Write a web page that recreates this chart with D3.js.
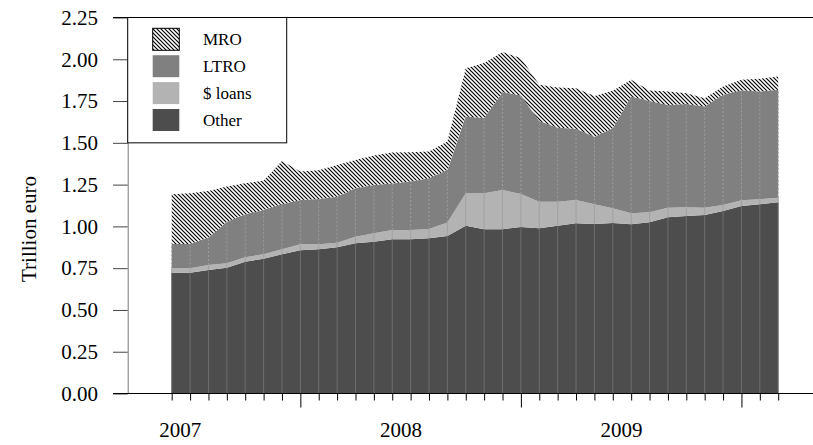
<!DOCTYPE html>
<html>
<head>
<meta charset="utf-8">
<script src="https://cdn.jsdelivr.net/npm/d3@7"></script>
<style>
  html, body { margin: 0; padding: 0; background: #fff; }
  svg { display: block; }
  text { font-family: "Liberation Serif", "Times New Roman", serif; fill: #000; }
</style>
</head>
<body>
<svg id="chart" width="813" height="445"></svg>
<script>
// ---- data (trillion euro), monthly ----
const months = [
  "2007-06","2007-07","2007-08","2007-09","2007-10","2007-11","2007-12",
  "2008-01","2008-02","2008-03","2008-04","2008-05","2008-06","2008-07","2008-08","2008-09","2008-10","2008-11","2008-12",
  "2009-01","2009-02","2009-03","2009-04","2009-05","2009-06","2009-07","2009-08","2009-09","2009-10","2009-11","2009-12",
  "2010-01","2010-02","2010-03"
];
const other = [0.723,0.723,0.739,0.753,0.789,0.807,0.833,0.857,0.863,0.875,0.899,0.908,0.923,0.923,0.929,0.943,
               1.004,0.983,0.983,0.996,0.989,1.004,1.019,1.014,1.020,1.013,1.025,1.055,1.062,1.068,1.092,1.122,1.132,1.144];
const dollarLoans = [0.026,0.026,0.030,0.026,0.026,0.026,0.030,0.036,0.030,0.027,0.039,0.051,0.055,0.055,0.055,0.081,
               0.194,0.215,0.235,0.198,0.159,0.144,0.139,0.118,0.088,0.065,0.059,0.057,0.052,0.044,0.036,0.034,0.030,0.028];
const ltro = [0.146,0.146,0.163,0.249,0.257,0.265,0.269,0.265,0.271,0.276,0.290,0.289,0.278,0.290,0.304,0.314,
               0.459,0.450,0.585,0.589,0.483,0.443,0.426,0.405,0.480,0.699,0.667,0.615,0.619,0.605,0.659,0.659,0.645,0.645];
const mro = [0.297,0.303,0.280,0.210,0.186,0.176,0.260,0.170,0.172,0.190,0.170,0.176,0.186,0.176,0.160,0.170,
               0.290,0.329,0.240,0.224,0.216,0.240,0.243,0.244,0.223,0.100,0.062,0.080,0.064,0.050,0.050,0.062,0.076,0.080];
const yTicks = [0,0.25,0.5,0.75,1.0,1.25,1.5,1.75,2.0,2.25];
const yearLabels = ["2007","2008","2009"];
const seriesNames = ["Other","$ loans","LTRO","MRO"];   // stacking order, bottom to top
const legendOrder = ["MRO","LTRO","$ loans","Other"];

// ---- build table ----
const table = months.map((m,i) => ({
  month: m, idx: i,
  "Other": other[i], "$ loans": dollarLoans[i], "LTRO": ltro[i], "MRO": mro[i]
}));

const svg = d3.select("#chart");
const x = d3.scaleLinear().domain([0, months.length - 1]).range([171.7, 778.2]);
const y = d3.scaleLinear().domain([0, 2.25]).range([393.5, 17.5]);
const step = x(1) - x(0);

const fills = { "Other": "#4d4d4d", "$ loans": "#b3b3b3", "LTRO": "#808080", "MRO": "url(#hatch)" };

// hatch pattern
const defs = svg.append("defs");
const pat = defs.append("pattern").attr("id","hatch").attr("patternUnits","userSpaceOnUse")
  .attr("width",4).attr("height",4);
pat.append("rect").attr("width",4).attr("height",4).attr("fill","#fff");
pat.append("path").attr("d","M-1,-1L5,5M-1,3L1,5M3,-1L5,1")
  .attr("stroke","#000").attr("stroke-width",1.15);

const stack = d3.stack().keys(seriesNames);
const layers = stack(table);

const area = d3.area()
  .x((d,i) => x(i))
  .y0(d => y(d[0]))
  .y1(d => y(d[1]));

svg.append("g").selectAll("path").data(layers).join("path")
  .attr("d", area)
  .attr("fill", d => fills[d.key]);

// vertical grid lines inside layers
const gridStyle = {
  "Other":   { stroke: "#6e6e6e", dash: null },
  "$ loans": { stroke: "#a2a2a2", dash: null },
  "LTRO":    { stroke: "#9c9c9c", dash: "2,2" }
};
layers.forEach(layer => {
  const st = gridStyle[layer.key];
  if (!st) return;
  svg.append("g").selectAll("line").data(layer).join("line")
    .attr("x1", (d,i) => x(i)).attr("x2", (d,i) => x(i))
    .attr("y1", d => y(d[0])).attr("y2", d => y(d[1]))
    .attr("stroke", st.stroke).attr("stroke-width", 1)
    .attr("stroke-dasharray", st.dash);
});

// y axis
const yAxis = d3.axisLeft(y).tickValues(yTicks).tickFormat(d3.format(".2f"))
  .tickSize(14.7).tickSizeOuter(0).tickPadding(15);
const gy = svg.append("g").attr("transform","translate(127.7,0)").call(yAxis);
gy.select(".domain").attr("stroke","#777");
gy.selectAll(".tick line").attr("stroke","#444");
gy.selectAll(".tick text").attr("font-size","21px").attr("font-family","Liberation Serif, Times New Roman, serif").attr("fill","#000");

// top and bottom frame lines
svg.append("line").attr("x1",113).attr("x2",813).attr("y1",y(2.25)).attr("y2",y(2.25))
  .attr("stroke","#000").attr("stroke-width",1);
svg.append("line").attr("x1",113).attr("x2",813).attr("y1",y(0)).attr("y2",y(0))
  .attr("stroke","#000").attr("stroke-width",1);

// x axis ticks
const majorIdx = months.map((m,i)=>m.endsWith("-01") ? i : -1).filter(i=>i>=0);
const xAxis = d3.axisBottom(x).tickValues(months.map((m,i)=>i)).tickFormat("")
  .tickSize(7).tickSizeOuter(0);
const gx = svg.append("g").attr("transform",`translate(0,${y(0)})`).call(xAxis);
gx.select(".domain").remove();
gx.selectAll(".tick line").attr("stroke","#000")
  .attr("y2", d => majorIdx.includes(d) ? 14 : 7);

// year labels (centred mid-June of each year)
svg.append("g").selectAll("text").data(yearLabels).join("text")
  .attr("x", yr => x(months.indexOf(yr + "-06")) + step * 0.47)
  .attr("y", 437)
  .attr("text-anchor","middle")
  .attr("font-size","21px")
  .text(d => d);

// y axis title
svg.append("text")
  .attr("transform","translate(36,229) rotate(-90)")
  .attr("text-anchor","middle")
  .attr("font-size","21px")
  .text("Trillion euro");

// legend
const lg = svg.append("g");
lg.append("rect").attr("x",127.7).attr("y",y(2.25)).attr("width",286.7-127.7).attr("height",y(1.5)-y(2.25))
  .attr("fill","#fff").attr("stroke","#000").attr("stroke-width",1);
legendOrder.forEach((k,i) => {
  const top = 28.3 + i * 26.9;
  lg.append("rect").attr("x",152.7).attr("y",top).attr("width",26.6).attr("height",22)
    .attr("fill", fills[k])
    .attr("stroke", k === "MRO" ? "#000" : "none").attr("stroke-width",1);
  lg.append("text").attr("x",203).attr("y",top + 11).attr("dy","0.35em")
    .attr("font-size","17px").text(k);
});
</script>
</body>
</html>
